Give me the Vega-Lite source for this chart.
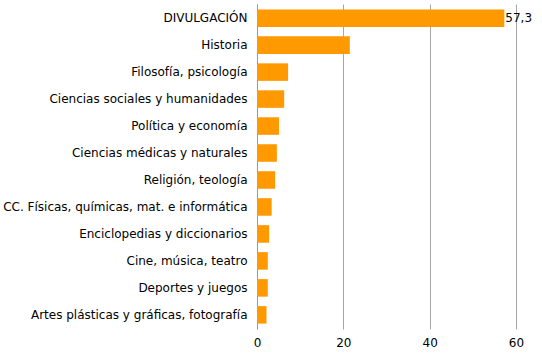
{
  "$schema": "https://vega.github.io/schema/vega-lite/v6.json",
  "autosize": "none",
  "width": 259,
  "height": 325,
  "padding": {"left": 257, "top": 4, "right": 26, "bottom": 34},
  "background": "white",
  "config": {
    "view": {"stroke": null},
    "font": "DejaVu Sans",
    "axis": {"labelFont": "DejaVu Sans", "labelColor": "#000000", "labelFontSize": 12, "labelLimit": 400}
  },
  "data": {
    "values": [
      {"categoria": "DIVULGACIÓN", "valor": 57.3, "etiqueta": "57,3"},
      {"categoria": "Historia", "valor": 21.5, "etiqueta": ""},
      {"categoria": "Filosofía, psicología", "valor": 7.2, "etiqueta": ""},
      {"categoria": "Ciencias sociales y humanidades", "valor": 6.3, "etiqueta": ""},
      {"categoria": "Política y economía", "valor": 5.1, "etiqueta": ""},
      {"categoria": "Ciencias médicas y naturales", "valor": 4.6, "etiqueta": ""},
      {"categoria": "Religión, teología", "valor": 4.2, "etiqueta": ""},
      {"categoria": "CC. Físicas, químicas, mat. e informática", "valor": 3.4, "etiqueta": ""},
      {"categoria": "Enciclopedias y diccionarios", "valor": 2.8, "etiqueta": ""},
      {"categoria": "Cine, música, teatro", "valor": 2.5, "etiqueta": ""},
      {"categoria": "Deportes y juegos", "valor": 2.5, "etiqueta": ""},
      {"categoria": "Artes plásticas y gráficas, fotografía", "valor": 2.2, "etiqueta": ""}
    ]
  },
  "encoding": {
    "y": {
      "field": "categoria", "type": "nominal", "sort": null,
      "scale": {"paddingInner": 0.35, "paddingOuter": 0.2},
      "axis": {"title": null, "ticks": false, "domainColor": "#999999", "labelPadding": 10, "grid": false}
    },
    "x": {
      "field": "valor", "type": "quantitative",
      "scale": {"domain": [0, 60], "nice": false},
      "axis": {"title": null, "values": [0, 20, 40, 60], "domain": false, "ticks": false, "gridColor": "#a6a6a6", "labelPadding": 8, "labelFlush": false}
    }
  },
  "layer": [
    {"mark": {"type": "bar", "color": "#FF9900"}},
    {
      "mark": {"type": "text", "align": "left", "dx": 1, "fontSize": 12, "color": "#000000"},
      "encoding": {"text": {"field": "etiqueta"}}
    }
  ]
}
